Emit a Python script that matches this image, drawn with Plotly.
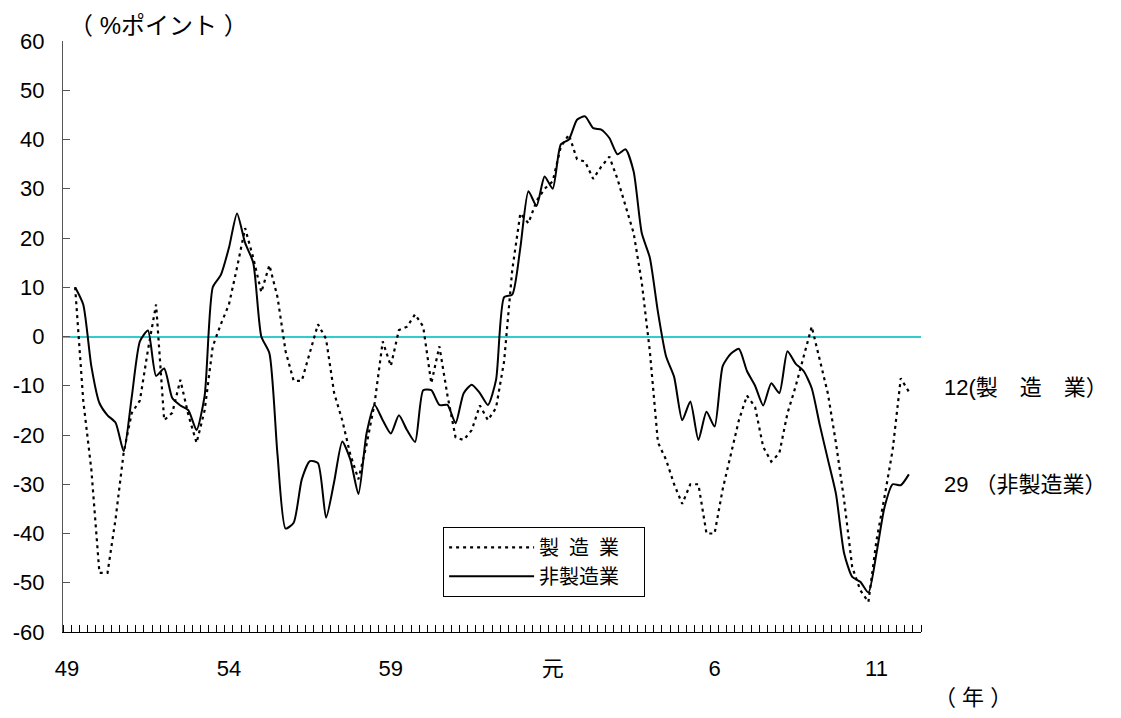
import plotly.graph_objects as go

# Quarter positions (0 = first quarter of Showa 49 / 1974)
quarter_pos = list(range(1, 105))

manufacturing = [
    10, -13, -27, -48, -48, -37, -23.5, -15.5, -13, -2.7,
    6.5, -17, -15.5, -8.8, -16, -21.6, -15, -2, 2.5, 6.5,
    14, 22, 16, 9, 14.5, 8, -3, -9, -9, -3,
    2.5, -0.5, -11.5, -17, -24, -29, -22, -13.5, -1, -6,
    1.3, 2, 4.5, 2, -9.5, -2, -12, -20.5, -21, -19,
    -14, -17, -14.5, -5, 13.5, 25, 23, 27.5, 30, 31.5,
    38.5, 41, 36, 35.5, 32, 34.5, 36.5, 32, 26.5, 21,
    11, -3, -21.5, -25, -30, -34, -30, -30, -40, -40,
    -31, -24, -17, -12, -14.3, -22.4, -25.4, -23.7, -15.6, -10.2,
    -4.1, 2, -4.8, -11.6, -21.7, -33.2, -46.8, -51.5, -53.9, -41.4,
    -32.5, -23, -8.5, -11.2,
]

non_manufacturing = [
    10, 6.5, -6, -13.5, -16, -17.5, -23.3, -12.2, -1, 1.2,
    -8, -6.5, -12.5, -14, -15, -19, -12, 10, 12.5, 18,
    25, 19, 15, 0, -3.4, -24, -39, -37.8, -29, -25.3,
    -25.7, -36.8, -29.5, -21.3, -25, -32, -19.7, -13.9, -17, -19.7,
    -16, -19, -21.4, -10.9, -10.9, -13.9, -13.9, -17.6, -11.5, -9.8,
    -11.5, -13.9, -8.8, 8, 8.5, 18, 29.5, 26.5, 32.5, 30,
    39, 40, 44, 44.7, 42.3, 42, 40.3, 37, 38, 33.5,
    21, 16, 5, -4, -8.2, -17, -13.2, -21, -15.3, -18.3,
    -6, -3.5, -2.5, -7, -10, -14, -9.5, -11.5, -3, -5.5,
    -7, -10.5, -18, -25, -32, -44, -48.8, -49.8, -52, -44,
    -34.6, -30, -30.2, -28,
]

x_tick_pos = [0, 20, 40, 60, 80, 100]
x_tick_labels = ["49", "54", "59", "元", "6", "11"]
y_tick_vals = [60, 50, 40, 30, 20, 10, 0, -10, -20, -30, -40, -50, -60]
y_tick_labels = [str(v) for v in y_tick_vals]

series_names = ["製\u2002造\u2002業\u3000", "非製造業\u3000"]
end_labels = ["12(製　造　業）", "29 （非製造業）"]

FONT = "Liberation Sans, Arial, Noto Sans CJK JP, sans-serif"

fig = go.Figure()
fig.add_trace(go.Scatter(
    x=quarter_pos, y=manufacturing, mode="lines", name=series_names[0],
    line=dict(color="black", width=2.2, dash="3px,4px"),
))
fig.add_trace(go.Scatter(
    x=quarter_pos, y=non_manufacturing, mode="lines", name=series_names[1],
    line=dict(color="black", width=2, shape="spline", smoothing=0.6),
))

fig.update_layout(
    width=1105, height=702,
    margin=dict(l=55, r=192, t=33, b=78, autoexpand=False),
    paper_bgcolor="white", plot_bgcolor="white",
    font=dict(family=FONT, size=22, color="black"),
    showlegend=True,
    legend=dict(
        x=0.443, y=0.178, xanchor="left", yanchor="top",
        bordercolor="black", borderwidth=1, bgcolor="white",
        font=dict(size=20), itemwidth=85, tracegroupgap=0,
    ),
)

fig.update_xaxes(
    range=[-0.5, 105.5], automargin=False,
    tickmode="array", tickvals=x_tick_pos, ticktext=x_tick_labels,
    ticks="", showgrid=False, zeroline=False,
    showline=True, linecolor="black", linewidth=1,
    ticklabelstandoff=17,
    minor=dict(ticks="inside", tick0=-0.5, dtick=1, ticklen=7,
               tickcolor="black", tickwidth=1, showgrid=False),
)
fig.update_yaxes(
    range=[-60, 60], automargin=False,
    tickmode="array", tickvals=y_tick_vals, ticktext=y_tick_labels,
    ticks="inside", ticklen=7, tickcolor="#555", tickwidth=1,
    showgrid=False,
    zeroline=True, zerolinecolor="#33CCCC", zerolinewidth=2,
    showline=True, linecolor="#555", linewidth=1,
    ticklabelstandoff=13,
)

fig.add_annotation(text="（ %ポイント ）", xref="paper", yref="paper",
                   x=0.111, y=1.027, xanchor="center", yanchor="middle",
                   showarrow=False, font=dict(size=24))
fig.add_annotation(text="（ 年 ）", xref="paper", yref="paper",
                   x=1.061, y=-0.110, xanchor="center", yanchor="middle",
                   showarrow=False, font=dict(size=22))
fig.add_annotation(text=end_labels[0], xref="paper", yref="paper",
                   x=1.0245, y=0.413, xanchor="left", yanchor="middle",
                   showarrow=False, font=dict(size=22))
fig.add_annotation(text=end_labels[1], xref="paper", yref="paper",
                   x=1.0245, y=0.249, xanchor="left", yanchor="middle",
                   showarrow=False, font=dict(size=22))

fig.write_html("out.html")
